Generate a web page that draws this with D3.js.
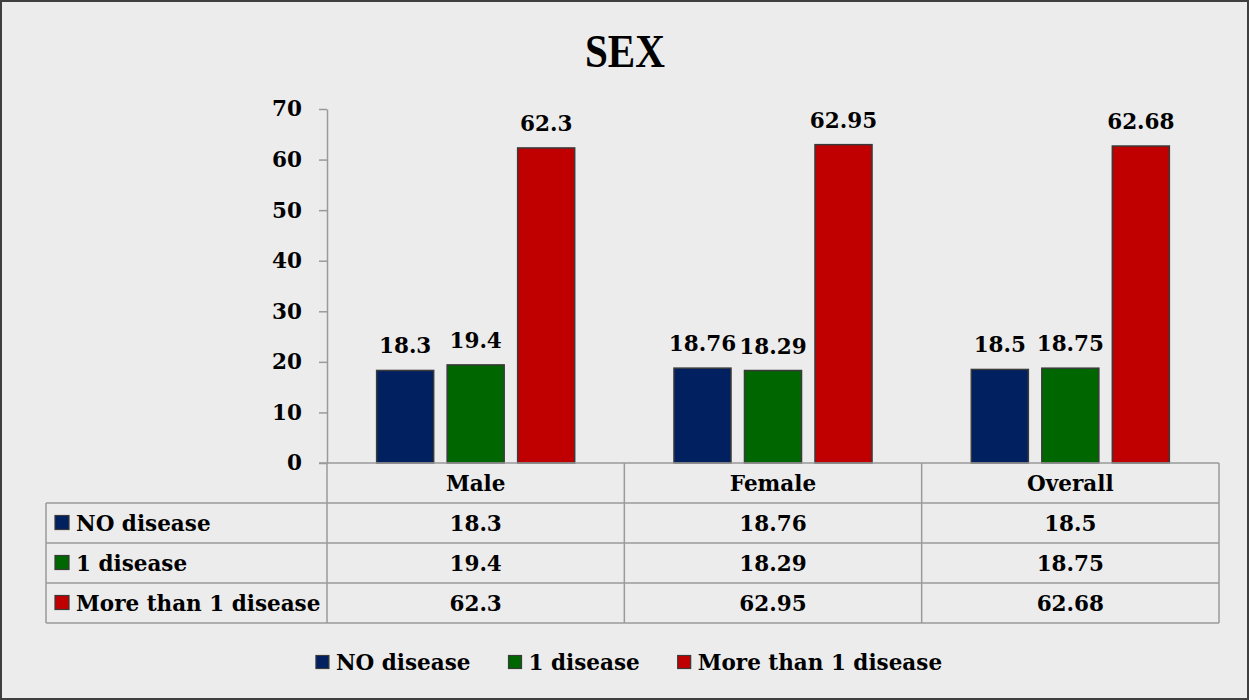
<!DOCTYPE html>
<html>
<head>
<meta charset="utf-8">
<script src="https://cdn.jsdelivr.net/npm/d3@7"></script>
<style>
  html, body { margin: 0; padding: 0; background: #ececec; }
  svg { display: block; }
  text { font-family: "DejaVu Serif", "Liberation Serif", serif; font-weight: bold; fill: #000; }
</style>
</head>
<body>
<svg id="chart" width="1249" height="700"></svg>
<script>
// Share of patients by number of diseases, per sex
const categories = ["Male", "Female", "Overall"];
const seriesNames = ["NO disease", "1 disease", "More than 1 disease"];
const noDisease = [18.3, 18.76, 18.5];
const oneDisease = [19.4, 18.29, 18.75];
const moreThanOne = [62.3, 62.95, 62.68];
const yTicks = [0, 10, 20, 30, 40, 50, 60, 70];
const seriesColors = ["#002060", "#006600", "#C00000"];

const series = [noDisease, oneDisease, moreThanOne];

const W = 1249, H = 700;
const plot = { left: 327, right: 1219, top: 109, bottom: 463 };
const tableLeft = 46;
const rowH = 40;
const gridColor = "#9a9a9a";
const fontSize = 21.5;

const svg = d3.select("#chart");

// background and frame
svg.append("rect").attr("x", 1).attr("y", 1).attr("width", W - 2).attr("height", H - 2)
  .attr("fill", "#ececec").attr("stroke", "#3f3f3f").attr("stroke-width", 2);

// title
svg.append("text").attr("x", 625).attr("y", 67).attr("text-anchor", "middle")
  .style("font-family", "'Liberation Serif', serif")
  .style("font-size", "46px")
  .attr("textLength", 80).attr("lengthAdjust", "spacingAndGlyphs")
  .text("SEX");

const y = d3.scaleLinear().domain([0, 70]).range([plot.bottom, plot.top]);
const x0 = d3.scaleBand().domain(categories).range([plot.left, plot.right]);
const x1 = d3.scaleBand().domain(seriesNames).range([0, x0.bandwidth()])
  .paddingInner(0.191).paddingOuter(0.704);

// y axis
const yAxis = svg.append("g").attr("transform", `translate(${plot.left},0)`)
  .call(d3.axisLeft(y).tickValues(yTicks).tickSize(8).tickSizeOuter(0).tickPadding(17));
yAxis.select(".domain").attr("stroke", gridColor).attr("stroke-width", 1.5);
yAxis.selectAll(".tick line").attr("stroke", gridColor).attr("stroke-width", 1.5);
yAxis.selectAll(".tick text").style("font-size", fontSize + "px")
  .style("font-family", "'DejaVu Serif', serif").style("font-weight", "bold").attr("fill", "#000");

// bars
const groups = svg.append("g").selectAll("g").data(categories).join("g")
  .attr("transform", c => `translate(${x0(c)},0)`);

seriesNames.forEach((name, si) => {
  groups.append("rect")
    .attr("x", x1(name))
    .attr("y", (c, ci) => y(series[si][ci]))
    .attr("width", x1.bandwidth())
    .attr("height", (c, ci) => y(0) - y(series[si][ci]))
    .attr("fill", seriesColors[si])
    .attr("stroke", "#3a3a3a").attr("stroke-width", 1.5);
  groups.append("text")
    .attr("x", x1(name) + x1.bandwidth() / 2)
    .attr("y", (c, ci) => y(series[si][ci]) - 17)
    .attr("text-anchor", "middle")
    .style("font-size", fontSize + "px")
    .text((c, ci) => series[si][ci]);
});

// data table under the axis
const table = svg.append("g");
const tableTop = plot.bottom;
const tableBottom = tableTop + rowH * (seriesNames.length + 1);

// horizontal rules
table.append("line").attr("x1", plot.left - 8).attr("x2", plot.right)
  .attr("y1", tableTop).attr("y2", tableTop);
for (let r = 1; r <= seriesNames.length + 1; r++) {
  table.append("line").attr("x1", tableLeft).attr("x2", plot.right)
    .attr("y1", tableTop + r * rowH).attr("y2", tableTop + r * rowH);
}
// vertical rules
table.append("line").attr("x1", tableLeft).attr("x2", tableLeft)
  .attr("y1", tableTop + rowH).attr("y2", tableBottom);
[plot.left, ...categories.map(c => x0(c) + x0.bandwidth())].forEach(xv => {
  table.append("line").attr("x1", xv).attr("x2", xv)
    .attr("y1", tableTop).attr("y2", tableBottom);
});
table.selectAll("line").attr("stroke", gridColor).attr("stroke-width", 1.5);

// header row
table.selectAll("text.head").data(categories).join("text").attr("class", "head")
  .attr("x", c => x0(c) + x0.bandwidth() / 2)
  .attr("y", tableTop + rowH / 2).attr("dy", "0.36em")
  .attr("text-anchor", "middle").style("font-size", fontSize + "px")
  .text(c => c);

// series rows
seriesNames.forEach((name, si) => {
  const cy = tableTop + rowH * (si + 1) + rowH / 2;
  table.append("rect").attr("x", 55).attr("y", cy - 7.5).attr("width", 14).attr("height", 14)
    .attr("fill", seriesColors[si]).attr("stroke", "#3a3a3a").attr("stroke-width", 1.2);
  table.append("text").attr("x", 76).attr("y", cy).attr("dy", "0.36em")
    .style("font-size", fontSize + "px").text(name);
  categories.forEach((c, ci) => {
    table.append("text").attr("x", x0(c) + x0.bandwidth() / 2).attr("y", cy).attr("dy", "0.36em")
      .attr("text-anchor", "middle").style("font-size", fontSize + "px")
      .text(series[si][ci]);
  });
});

// legend
const legend = svg.append("g");
const legendY = 662;
let lx = 0;
seriesNames.forEach((name, si) => {
  const item = legend.append("g").attr("transform", `translate(${lx},0)`);
  item.append("rect").attr("x", 0).attr("y", legendY - 6.5).attr("width", 13).attr("height", 13)
    .attr("fill", seriesColors[si]).attr("stroke", "#3a3a3a").attr("stroke-width", 1.2);
  const t = item.append("text").attr("x", 20).attr("y", legendY).attr("dy", "0.36em")
    .style("font-size", fontSize + "px").text(name);
  lx += 20 + t.node().getComputedTextLength() + 38;
});
const legendW = lx - 38;
legend.attr("transform", `translate(${629 - legendW / 2},0)`);
</script>
</body>
</html>
